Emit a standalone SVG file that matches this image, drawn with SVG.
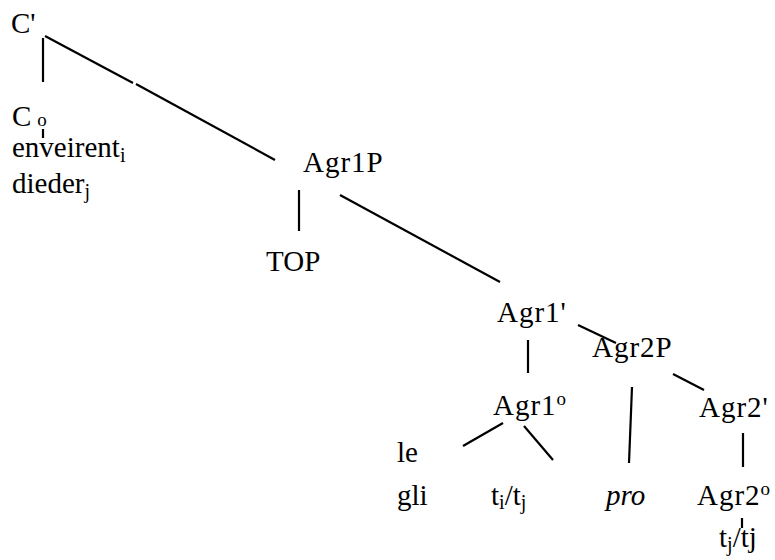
<svg xmlns="http://www.w3.org/2000/svg" width="775" height="560" viewBox="0 0 775 560">
<style>
.t{font-family:"Liberation Serif","Times New Roman",serif !important;font-size:29px;fill:#000}
.sub{font-size:20px}
.sup{font-size:19px}
line{stroke:#000;stroke-width:2.2;stroke-linecap:butt}
</style>
<rect width="775" height="560" fill="#fff"/>
<g id="connectors">
<line x1="43" y1="38" x2="43" y2="82"/>
<line x1="45" y1="36" x2="133" y2="83"/>
<line x1="136" y1="84" x2="275" y2="160"/>
<line x1="43" y1="129" x2="43" y2="138"/>
<line x1="299" y1="190" x2="299" y2="231"/>
<line x1="340" y1="195" x2="500" y2="282"/>
<line x1="578" y1="325" x2="616" y2="343"/>
<line x1="528" y1="340" x2="528" y2="373"/>
<line x1="503" y1="423" x2="463" y2="446"/>
<line x1="524" y1="426" x2="553" y2="460"/>
<line x1="632" y1="387" x2="629" y2="463"/>
<line x1="673" y1="374" x2="704" y2="390"/>
<line x1="743" y1="433" x2="743" y2="467"/>
<line x1="742" y1="518" x2="742" y2="528"/>
</g>
<g id="nodes">
<g id="n-Cbar"><text class="t" style="font-family:'Liberation Serif'" x="11" y="33">C'</text></g>
<g id="n-C0"><text class="t" style="font-family:'Liberation Serif'" x="12" y="126">C<tspan class="sup" dx="6">o</tspan></text></g>
<g id="n-enveirent"><text class="t" style="font-family:'Liberation Serif'" x="12" y="157">enveirent<tspan class="sub" dy="5">i</tspan></text></g>
<g id="n-dieder"><text class="t" style="font-family:'Liberation Serif'" x="12" y="193">dieder<tspan class="sub" dy="5">j</tspan></text></g>
<g id="n-Agr1P"><text class="t" style="font-family:'Liberation Serif'" x="303" y="172" letter-spacing="1">Agr1P</text></g>
<g id="n-TOP"><text class="t" style="font-family:'Liberation Serif'" x="266" y="271">TOP</text></g>
<g id="n-Agr1bar"><text class="t" style="font-family:'Liberation Serif'" x="497" y="322" letter-spacing="1">Agr1'</text></g>
<g id="n-Agr2P"><text class="t" style="font-family:'Liberation Serif'" x="592" y="357" letter-spacing="1">Agr2P</text></g>
<g id="n-Agr1o"><text class="t" style="font-family:'Liberation Serif'" x="493" y="415" letter-spacing="1">Agr1<tspan class="sup" dy="-10">o</tspan></text></g>
<g id="n-le"><text class="t" style="font-family:'Liberation Serif'" x="397" y="462">le</text></g>
<g id="n-gli"><text class="t" style="font-family:'Liberation Serif'" x="397" y="505">gli</text></g>
<g id="n-titj"><text class="t" style="font-family:'Liberation Serif'" x="491" y="505">t<tspan class="sub" dy="4">i</tspan><tspan dy="-4">/t</tspan><tspan class="sub" dy="4">j</tspan></text></g>
<g id="n-Agr2bar"><text class="t" style="font-family:'Liberation Serif'" x="699" y="417" letter-spacing="1">Agr2'</text></g>
<g id="n-pro"><text class="t" style="font-family:'Liberation Serif';font-style:italic" x="606" y="505">pro</text></g>
<g id="n-Agr2o"><text class="t" style="font-family:'Liberation Serif'" x="697" y="505" letter-spacing="1">Agr2<tspan class="sup" dy="-10">o</tspan></text></g>
<g id="n-titj2"><text class="t" style="font-family:'Liberation Serif'" x="719" y="547">t<tspan class="sub" dy="4">j</tspan><tspan dy="-4">/tj</tspan></text></g>
</g>
</svg>
